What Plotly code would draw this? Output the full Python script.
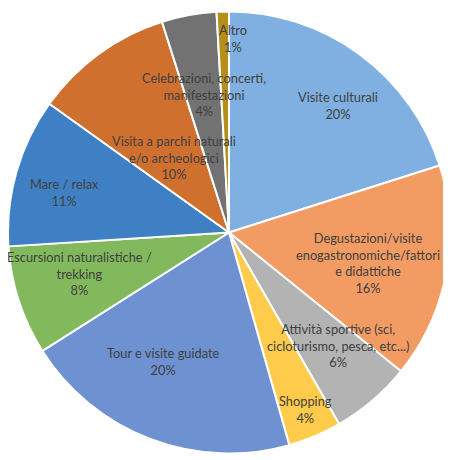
import math
import plotly.graph_objects as go

# categories (with the line breaks used on the chart) and shares in percent
categories = [
    "Visite culturali",
    "Degustazioni/visite<br>enogastronomiche/fattori<br>e didattiche",
    "Attività sportive (sci,<br>cicloturismo, pesca, etc...)",
    "Shopping",
    "Tour e visite guidate",
    "Escursioni naturalistiche /<br>trekking",
    "Mare / relax",
    "Visita a parchi naturali<br>e/o archeologici",
    "Celebrazioni, concerti,<br>manifestazioni",
    "Altro",
]
shares = [20.1, 15.7, 5.9, 3.9, 20.4, 8.0, 10.9, 10.2, 4.0, 0.9]

colors = ["#7fb0e1", "#f29c63", "#b3b3b3", "#ffcb4a", "#6d91d1",
          "#82b95d", "#3f80c4", "#d0702f", "#727272", "#b58f1c"]

# label placement: fraction of radius and angle offset (deg) from slice middle
label_r = [0.757, 0.645, 0.712, 0.873, 0.655, 0.70, 0.768, 0.42, 0.636, 0.876]
label_da = [4.5, 1.9, -3.5, -0.4, 5.9, 2.7, -2.3, -0.3, 0.4, 2.8]

# the page body adds an 8px margin, so the figure is 8px smaller than the window
W, H = 443, 452
left, right, top, bottom = 0, 442, 2, 447  # pie box in figure pixels
cx, cy = (left + right) / 2, (top + bottom) / 2
R = min(right - left, bottom - top) / 2

fig = go.Figure()
fig.add_trace(go.Pie(
    labels=categories,
    values=shares,
    sort=False,
    direction="clockwise",
    rotation=0,
    marker=dict(colors=colors, line=dict(color="white", width=2)),
    textinfo="none",
    hoverinfo="label+percent",
    domain=dict(x=[left / W, right / W], y=[(H - bottom) / H, (H - top) / H]),
    showlegend=False,
))

total = sum(shares)
cum = 0
for cat, v, fr, da in zip(categories, shares, label_r, label_da):
    mid = (cum + v / 2) / total * 360 + da
    cum += v
    a = math.radians(mid)
    px = cx + fr * R * math.sin(a)
    py = cy - fr * R * math.cos(a)
    fig.add_annotation(
        x=px / W, y=1 - py / H, xref="paper", yref="paper",
        xanchor="center", yanchor="middle",
        text="%s<br>%d%%" % (cat, round(v / total * 100)),
        showarrow=False, align="center",
        font=dict(family="Lato", size=12.8, color="#404040"),
    )

fig.update_layout(
    width=W, height=H,
    margin=dict(l=0, r=0, t=0, b=0),
    paper_bgcolor="white",
    plot_bgcolor="white",
)

fig.write_html("out.html")
